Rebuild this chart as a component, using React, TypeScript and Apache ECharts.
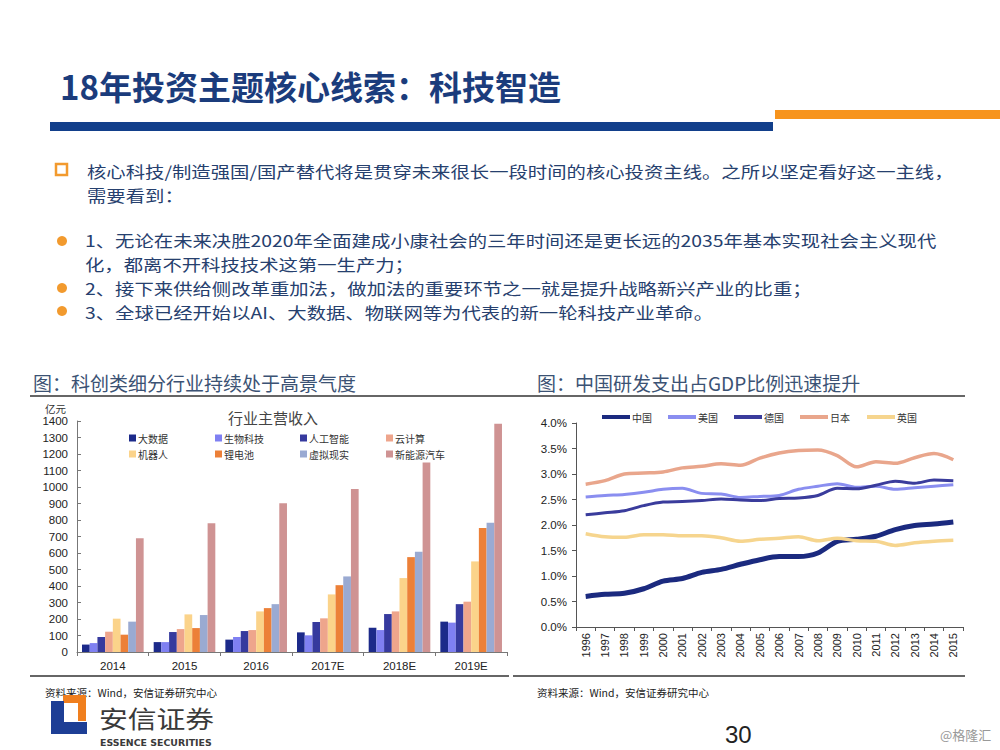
import React, { useEffect, useRef } from 'react';
import * as echarts from 'echarts';

// ---------- Data ----------
const barCategories = ['2014', '2015', '2016', '2017E', '2018E', '2019E'];
const barNames = ['大数据', '生物科技', '人工智能', '云计算', '机器人', '锂电池', '虚拟现实', '新能源汽车'];
const bigData = [45, 60, 75, 119, 147, 184];
const biotech = [54, 60, 91, 101, 133, 178];
const ai = [91, 121, 127, 182, 230, 290];
const cloud = [123, 139, 133, 204, 246, 305];
const robot = [202, 228, 246, 349, 448, 549];
const battery = [105, 145, 266, 405, 575, 752];
const vr = [184, 224, 290, 458, 607, 783];
const nev = [690, 781, 902, 988, 1148, 1384];
const barYTicks = { min: 0, max: 1400, interval: 100 };

const years = ['1996', '1997', '1998', '1999', '2000', '2001', '2002', '2003', '2004', '2005',
  '2006', '2007', '2008', '2009', '2010', '2011', '2012', '2013', '2014', '2015'];
const lineNames = ['中国', '美国', '德国', '日本', '英国'];
const china = [0.60, 0.64, 0.66, 0.75, 0.90, 0.95, 1.07, 1.13, 1.23, 1.32, 1.38, 1.38, 1.45, 1.68, 1.72, 1.78, 1.91, 1.99, 2.02, 2.06];
const usa = [2.55, 2.58, 2.60, 2.64, 2.70, 2.72, 2.62, 2.61, 2.54, 2.56, 2.58, 2.70, 2.76, 2.81, 2.74, 2.76, 2.70, 2.73, 2.76, 2.79];
const germany = [2.20, 2.24, 2.28, 2.38, 2.45, 2.46, 2.48, 2.51, 2.49, 2.48, 2.52, 2.53, 2.58, 2.72, 2.71, 2.78, 2.86, 2.82, 2.88, 2.87];
const japan = [2.80, 2.87, 3.00, 3.02, 3.04, 3.12, 3.15, 3.20, 3.17, 3.31, 3.41, 3.46, 3.47, 3.36, 3.14, 3.24, 3.21, 3.32, 3.40, 3.28];
const uk = [1.83, 1.77, 1.76, 1.81, 1.81, 1.79, 1.79, 1.75, 1.68, 1.72, 1.74, 1.77, 1.69, 1.74, 1.69, 1.68, 1.60, 1.65, 1.68, 1.70];
const lineYTicks = { min: 0, max: 4, interval: 0.5 };

const slideTitle = '18年投资主题核心线索：科技智造';
const introLines = [
  '核心科技/制造强国/国产替代将是贯穿未来很长一段时间的核心投资主线。之所以坚定看好这一主线，',
  '需要看到：',
];
const pointLines = [
  '1、无论在未来决胜2020年全面建成小康社会的三年时间还是更长远的2035年基本实现社会主义现代',
  '化，都离不开科技技术这第一生产力；',
  '2、接下来供给侧改革重加法，做加法的重要环节之一就是提升战略新兴产业的比重；',
  '3、全球已经开始以AI、大数据、物联网等为代表的新一轮科技产业革命。',
];
const leftHeading = '图：科创类细分行业持续处于高景气度';
const rightHeading = '图：中国研发支出占GDP比例迅速提升';
const barChartTitle = '行业主营收入';
const barUnit = '亿元';
const sourceText = '资料来源：Wind，安信证券研究中心';

// ---------- Styles ----------
const FONT = '"Noto Sans CJK SC", "Noto Sans", sans-serif';
const LATIN = '"Liberation Sans", Arial, sans-serif';
const barColors = ['#1c2a8a', '#7f80f2', '#363a9e', '#eea58c', '#fbd38a', '#ec8038', '#9aaad2', '#cf9393'];
const lineColors = ['#1b2a7f', '#8a8ef0', '#3a3c9c', '#e9a68c', '#f6d58e'];
const lineWidths = [5, 3, 3, 3.5, 3.5];

export default function App() {
  const ref = useRef<HTMLDivElement>(null);

  useEffect(() => {
    if (!ref.current) return;
    const chart = echarts.init(ref.current, undefined, { renderer: 'svg' });

    const barData = [bigData, biotech, ai, cloud, robot, battery, vr, nev];
    const lineData = [china, usa, germany, japan, uk];

    const legendPos = [
      [129, 433], [215, 433], [300, 433], [386, 433],
      [129, 449], [215, 449], [300, 449], [386, 449],
    ];
    const barLegends = barNames.map((n, i) => ({
      data: [n],
      left: legendPos[i][0],
      top: legendPos[i][1],
      padding: 0,
      icon: 'rect',
      itemWidth: 7,
      itemHeight: 7,
      itemGap: 0,
      selectedMode: false,
      textStyle: { fontSize: 10, color: '#333', fontFamily: FONT, padding: [0, 0, 0, -3] },
    }));
    const lineLegendX = [602, 668, 734, 800, 867];
    const lineLegends = lineNames.map((n, i) => ({
      data: [n],
      left: lineLegendX[i],
      top: 412,
      padding: 0,
      icon: 'rect',
      itemWidth: 28,
      itemHeight: 4,
      selectedMode: false,
      textStyle: { fontSize: 10, color: '#333', fontFamily: FONT, padding: [0, 0, 0, -3] },
    }));

    const textEl = (x: number, y: number, text: string, style: any, extra: any = {}) => ({
      type: 'text',
      x,
      y,
      ...extra,
      style: { text, fontFamily: FONT, textVerticalAlign: 'middle', verticalAlign: 'middle', ...style },
    });

    const bodyStyle = { fontSize: 16, fill: '#26406e' };
    const bodyScale = { scaleX: 1.21 };

    const graphic: any[] = [
      // header bars
      { type: 'rect', shape: { x: 50, y: 122, width: 723, height: 9 }, style: { fill: '#123f8b' } },
      { type: 'rect', shape: { x: 775, y: 110, width: 225, height: 9 }, style: { fill: '#f7941d' } },
      textEl(60, 86, slideTitle, { fontSize: 33, fontWeight: 'bold', fill: '#1b3c7c' }),
      // intro
      { type: 'rect', shape: { x: 56, y: 164, width: 11, height: 11 }, style: { fill: 'none', stroke: '#f29a2e', lineWidth: 2.5 } },
      textEl(87, 171, introLines[0], bodyStyle, bodyScale),
      textEl(87, 195, introLines[1], bodyStyle, bodyScale),
      { type: 'circle', shape: { cx: 62, cy: 241, r: 5 }, style: { fill: '#f29a2e' } },
      { type: 'circle', shape: { cx: 62, cy: 288, r: 5 }, style: { fill: '#f29a2e' } },
      { type: 'circle', shape: { cx: 62, cy: 311, r: 5 }, style: { fill: '#f29a2e' } },
      textEl(85, 240, pointLines[0], bodyStyle, bodyScale),
      textEl(85, 264, pointLines[1], bodyStyle, bodyScale),
      textEl(85, 287.5, pointLines[2], bodyStyle, bodyScale),
      textEl(85, 311.5, pointLines[3], bodyStyle, bodyScale),
      // chart headings
      textEl(33, 382, leftHeading, { fontSize: 19, fill: '#3b5274' }),
      textEl(537, 382, rightHeading, { fontSize: 19, fill: '#3b5274' }),
      // frame lines
      { type: 'line', shape: { x1: 30, y1: 396, x2: 965, y2: 396 }, style: { stroke: '#333', lineWidth: 1.5 } },
      { type: 'line', shape: { x1: 30, y1: 676, x2: 509, y2: 676 }, style: { stroke: '#333', lineWidth: 1.5 } },
      { type: 'line', shape: { x1: 513, y1: 676, x2: 965, y2: 676 }, style: { stroke: '#333', lineWidth: 1.5 } },
      // bar chart title/unit
      textEl(273, 417, barChartTitle, { fontSize: 15, fill: '#444', textAlign: 'center', align: 'center' }),
      textEl(45, 408, barUnit, { fontSize: 10.5, fill: '#333' }),
      // sources
      textEl(45, 692, sourceText, { fontSize: 10.5, fill: '#222' }),
      textEl(537, 692, sourceText, { fontSize: 10.5, fill: '#222' }),
      // logo
      { type: 'polygon', shape: { points: [[63, 695], [86, 695], [86, 721], [78, 721], [78, 703], [63, 703]] }, style: { fill: '#f07f1e' } },
      { type: 'polygon', shape: { points: [[51, 701], [64, 701], [64, 722], [87, 722], [87, 734], [51, 734]] }, style: { fill: '#1d3e95' } },
      textEl(99, 718, '安信证券', { fontSize: 24, fill: '#3a3a3a' }, { scaleX: 1.2 }),
      textEl(100, 743, 'ESSENCE SECURITIES', { fontSize: 9.5, fill: '#3a3a3a', fontFamily: '"Liberation Sans Narrow", "DejaVu Sans Condensed", sans-serif', fontWeight: 'bold' }, { scaleX: 1.1 }),
      textEl(725, 734, '30', { fontSize: 24, fill: '#222', fontFamily: LATIN }),
      textEl(940, 734, '@格隆汇', { fontSize: 13, fill: '#999' }),
    ];

    const option: any = {
      animation: false,
      backgroundColor: '#ffffff',
      textStyle: { fontFamily: FONT },
      legend: [...barLegends, ...lineLegends],
      grid: [
        { left: 77, right: 493, top: 421, bottom: 98, containLabel: false },
        { left: 576, right: 37, top: 423, bottom: 123, containLabel: false },
      ],
      xAxis: [
        {
          type: 'category',
          gridIndex: 0,
          data: barCategories,
          axisLine: { lineStyle: { color: '#777', width: 1 } },
          axisTick: { show: true, length: 4, lineStyle: { color: '#777' } },
          axisLabel: { fontSize: 11.5, color: '#222', margin: 8, fontFamily: LATIN },
        },
        {
          type: 'category',
          gridIndex: 1,
          data: years,
          boundaryGap: true,
          axisLine: { lineStyle: { color: '#555', width: 1 } },
          axisTick: { show: true, length: 4, lineStyle: { color: '#555' } },
          axisLabel: { rotate: 90, fontSize: 11, color: '#222', margin: 6, interval: 0, fontFamily: LATIN },
        },
      ],
      yAxis: [
        {
          type: 'value',
          gridIndex: 0,
          min: barYTicks.min,
          max: barYTicks.max,
          interval: barYTicks.interval,
          axisLine: { show: true, lineStyle: { color: '#777', width: 1 } },
          axisTick: { show: true, inside: true, length: 4, lineStyle: { color: '#777' } },
          splitLine: { show: false },
          axisLabel: { fontSize: 11.5, color: '#222', margin: 9, fontFamily: LATIN, formatter: (v: number) => String(v) },
        },
        {
          type: 'value',
          gridIndex: 1,
          min: lineYTicks.min,
          max: lineYTicks.max,
          interval: lineYTicks.interval,
          axisLine: { show: true, lineStyle: { color: '#555', width: 1 } },
          axisTick: { show: true, length: 4, lineStyle: { color: '#555' } },
          splitLine: { show: false },
          axisLabel: {
            fontSize: 11.5,
            color: '#222',
            margin: 9,
            fontFamily: LATIN,
            formatter: (v: number) => v.toFixed(1) + '%',
          },
        },
      ],
      series: [
        ...barNames.map((n, i) => ({
          name: n,
          type: 'bar',
          xAxisIndex: 0,
          yAxisIndex: 0,
          data: barData[i],
          barGap: '0%',
          barCategoryGap: '14%',
          itemStyle: { color: barColors[i] },
        })),
        ...lineNames.map((n, i) => ({
          name: n,
          type: 'line',
          xAxisIndex: 1,
          yAxisIndex: 1,
          data: lineData[i],
          smooth: 0.3,
          showSymbol: false,
          symbol: 'none',
          itemStyle: { color: lineColors[i] },
          lineStyle: { color: lineColors[i], width: lineWidths[i] },
        })),
      ],
      graphic,
    };

    chart.setOption(option);
    return () => chart.dispose();
  }, []);

  return (
    <div
      ref={ref}
      style={{ position: 'absolute', left: 0, top: 0, width: 1000, height: 750, background: '#fff' }}
    />
  );
}
